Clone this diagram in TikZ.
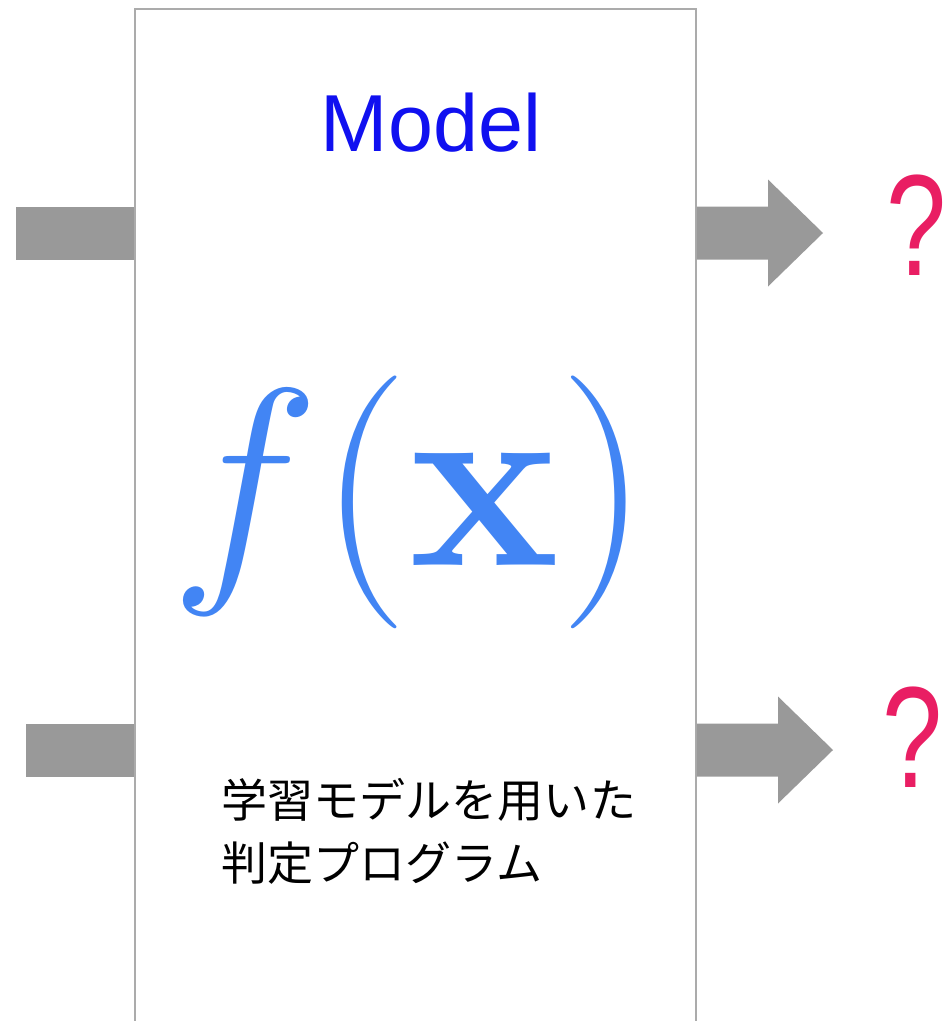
\RequirePackage{fix-cm}
\documentclass[tikz,border=0pt]{standalone}
\usepackage[no-math]{fontspec}
\setmainfont{Liberation Sans}
\newfontfamily\jpfont{Noto Sans CJK JP}
\usetikzlibrary{calc, positioning}

\definecolor{arrowgray}{HTML}{999999}
\definecolor{boxgray}{HTML}{ABABAB}
\definecolor{qpink}{HTML}{E91E63}
\definecolor{fxblue}{HTML}{4285F4}
\definecolor{titleblue}{HTML}{1010F0}

\begin{document}
\begin{tikzpicture}[x=0.1mm, y=-0.1mm,
  blockarrow/.style={fill=arrowgray, draw=none},
  qmark/.style={text=qpink, inner sep=0pt, xscale=0.75,
                font=\fontsize{41}{41}\selectfont}]
\def\sh{26.5}  % half shaft
\def\hh{53.5}  % half head
\def\hl{55}    % head length
\useasboundingbox (0,0) rectangle (948,1021);
\clip (0,0) rectangle (948,1021);

\node[draw=boxgray, line width=0.5pt, fill=white, inner sep=0pt,
      minimum width=56.1mm, minimum height=110mm, anchor=north west]
  (model) at (134,8) {};

\node[text=titleblue, inner sep=0pt, font=\fontsize{23}{23}\selectfont]
  (title) at (431,123) {Model};
\node[text=fxblue, inner sep=0pt, font=\fontsize{72}{72}\selectfont]
  (fx) at (410,502) {$f(\mathbf{x})$};
\node[anchor=west, align=left, inner sep=0pt,
      font=\jpfont\fontsize{13.1}{17.9}\selectfont]
  (desc) at (221,831) {学習モデルを用いた\\判定プログラム};

% inputs
\coordinate (in1) at (16,233);
\coordinate (in2) at (26,750);
\fill[blockarrow] ($(in1)+(0,-\sh)$) rectangle ($(model.west |- in1)+(0,\sh)$);
\fill[blockarrow] ($(in2)+(0,-\sh)$) rectangle ($(model.west |- in2)+(0,\sh)$);

% outputs
\coordinate (tip1) at (823,233);
\coordinate (tip2) at (833,750);
\fill[blockarrow] ($(model.east |- tip1)+(0,-\sh)$) -- ($(tip1)+(-\hl,-\sh)$)
  -- ($(tip1)+(-\hl,-\hh)$) -- (tip1) -- ($(tip1)+(-\hl,\hh)$)
  -- ($(tip1)+(-\hl,\sh)$) -- ($(model.east |- tip1)+(0,\sh)$) -- cycle;
\fill[blockarrow] ($(model.east |- tip2)+(0,-\sh)$) -- ($(tip2)+(-\hl,-\sh)$)
  -- ($(tip2)+(-\hl,-\hh)$) -- (tip2) -- ($(tip2)+(-\hl,\hh)$)
  -- ($(tip2)+(-\hl,\sh)$) -- ($(model.east |- tip2)+(0,\sh)$) -- cycle;

\node[qmark] (q1) at (917,225) {?};
\node[qmark] (q2) at (913,737) {?};
\end{tikzpicture}
\end{document}
